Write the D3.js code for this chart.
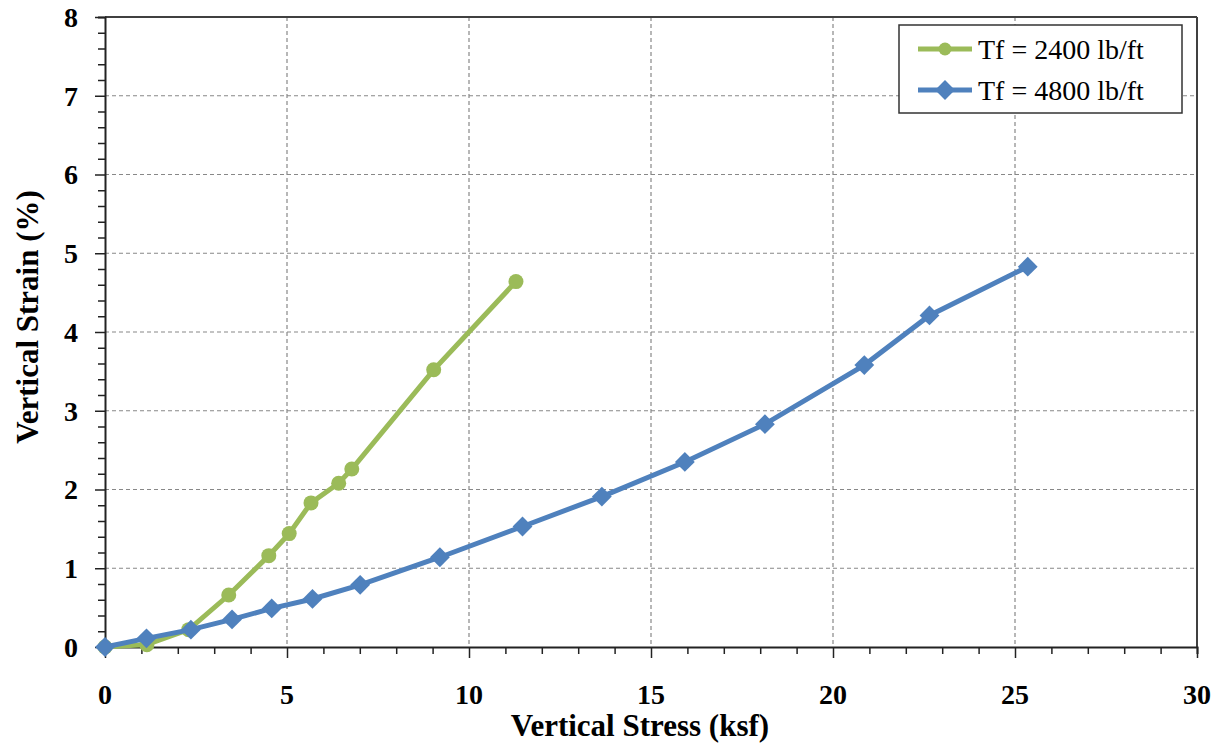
<!DOCTYPE html>
<html lang="en">
<head>
<meta charset="UTF-8">
<script src="https://d3js.org/d3.v7.min.js"></script>
<style>
  body { margin:0; background:#fff; }
  text { font-family: "Liberation Serif", "Times New Roman", serif; }
  .grid line { stroke:#888; stroke-dasharray:4,3; stroke-width:1.2px; }
</style>
<title>Vertical Strain vs Stress</title>
</head>
<body>
<script>
// series: Tf = 2400 lb/ft
var stress2400 = [0, 1.15, 2.3, 3.4, 4.5, 5.06, 5.66, 6.42, 6.78, 9.03, 11.29];
var strain2400 = [0, 0.03, 0.22, 0.66, 1.16, 1.44, 1.83, 2.08, 2.26, 3.52, 4.64];
// series: Tf = 4800 lb/ft
var stress4800 = [0, 1.14, 2.36, 3.49, 4.58, 5.7, 7.01, 9.2, 11.47, 13.65, 15.93, 18.13, 20.86, 22.65, 25.35];
var strain4800 = [0, 0.11, 0.22, 0.35, 0.49, 0.61, 0.79, 1.14, 1.53, 1.91, 2.35, 2.83, 3.58, 4.21, 4.83];

var xTicks = [0, 5, 10, 15, 20, 25, 30];
var yTicks = [0, 1, 2, 3, 4, 5, 6, 7, 8];
var seriesNames = ["Tf = 2400 lb/ft", "Tf = 4800 lb/ft"];

var W = 1225, H = 747;
var margin = {top: 17, right: 28, bottom: 100, left: 105};
var width = W - margin.left - margin.right,
    height = H - margin.top - margin.bottom;

var svg = d3.select("body").append("svg")
    .attr("width", W).attr("height", H);
var g = svg.append("g")
    .attr("transform", "translate(" + margin.left + "," + margin.top + ")");

var x = d3.scaleLinear().domain([0, 30]).range([0, width]);
var y = d3.scaleLinear().domain([0, 8]).range([height, 0]);

// gridlines
var grid = g.append("g").attr("class", "grid");
grid.selectAll(".hg").data(yTicks.slice(1, -1)).enter().append("line")
    .attr("x1", 0).attr("x2", width)
    .attr("y1", function(d) { return y(d); }).attr("y2", function(d) { return y(d); });
grid.selectAll(".vg").data(xTicks.slice(1, -1)).enter().append("line")
    .attr("y1", 0).attr("y2", height)
    .attr("x1", function(d) { return x(d); }).attr("x2", function(d) { return x(d); });

// frame top/right
g.append("line").attr("x1", 0).attr("x2", width).attr("y1", 0).attr("y2", 0)
    .attr("stroke", "#404040").attr("stroke-width", 2);
g.append("line").attr("x1", width).attr("x2", width).attr("y1", 0).attr("y2", height)
    .attr("stroke", "#404040").attr("stroke-width", 2);

// x axis: minor ticks every 1, majors every 5
var xAxis = g.append("g").attr("transform", "translate(0," + height + ")");
xAxis.call(d3.axisBottom(x).tickValues(d3.range(0, 31, 1)).tickSize(7).tickFormat(""));
xAxis.selectAll(".tick line").filter(function(d) { return d % 5 === 0; }).attr("y2", 11);
xAxis.select(".domain").attr("stroke", "#222").attr("stroke-width", 2);
xAxis.selectAll(".tick line").attr("stroke", "#222").attr("stroke-width", 1.5);
xAxis.selectAll(".xl").data(xTicks).enter().append("text")
    .attr("x", function(d) { return x(d); }).attr("y", 57)
    .attr("text-anchor", "middle").attr("font-size", 28).attr("font-weight", "bold")
    .attr("fill", "#000").text(function(d) { return d; });

// y axis: minor ticks every 0.2
var yAxis = g.append("g");
yAxis.call(d3.axisLeft(y).tickValues(d3.range(0, 41, 1).map(function(v) { return v / 5; })).tickSize(7).tickFormat(""));
yAxis.selectAll(".tick line").filter(function(d, i) { return i % 5 === 0; }).attr("x2", -10);
yAxis.select(".domain").attr("stroke", "#222").attr("stroke-width", 2);
yAxis.selectAll(".tick line").attr("stroke", "#222").attr("stroke-width", 1.5);
yAxis.selectAll(".yl").data(yTicks).enter().append("text")
    .attr("x", -27).attr("y", function(d) { return y(d); }).attr("dy", "0.35em")
    .attr("text-anchor", "end").attr("font-size", 28).attr("font-weight", "bold")
    .attr("fill", "#000").text(function(d) { return d; });

// axis titles
svg.append("text").attr("x", 640).attr("y", 736)
    .attr("text-anchor", "middle").attr("font-size", 31).attr("font-weight", "bold")
    .text("Vertical Stress (ksf)");
svg.append("text").attr("transform", "translate(38,317) rotate(-90)")
    .attr("text-anchor", "middle").attr("font-size", 31).attr("font-weight", "bold")
    .text("Vertical Strain (%)");

var line = d3.line()
    .x(function(d) { return x(d[0]); })
    .y(function(d) { return y(d[1]); });

var green = "#9BBB59", blue = "#4F81BD";
var data2400 = d3.zip(stress2400, strain2400);
var data4800 = d3.zip(stress4800, strain4800);

g.append("path").datum(data2400).attr("d", line)
    .attr("fill", "none").attr("stroke", green).attr("stroke-width", 5);
g.selectAll(".c").data(data2400).enter().append("circle")
    .attr("cx", function(d) { return x(d[0]); }).attr("cy", function(d) { return y(d[1]); })
    .attr("r", 7.5).attr("fill", green);

g.append("path").datum(data4800).attr("d", line)
    .attr("fill", "none").attr("stroke", blue).attr("stroke-width", 5);
var diamond = d3.symbol().type(d3.symbolDiamond2).size(250);
g.selectAll(".dm").data(data4800).enter().append("path")
    .attr("d", diamond)
    .attr("transform", function(d) { return "translate(" + x(d[0]) + "," + y(d[1]) + ")"; })
    .attr("fill", blue);

// legend
var lg = svg.append("g").attr("transform", "translate(899,25)");
lg.append("rect").attr("width", 283).attr("height", 88)
    .attr("fill", "#fff").attr("stroke", "#333").attr("stroke-width", 1.5);
[green, blue].forEach(function(c, i) {
  var cy = 24 + i * 41;
  lg.append("line").attr("x1", 19).attr("x2", 73).attr("y1", cy).attr("y2", cy)
      .attr("stroke", c).attr("stroke-width", 5);
  if (i === 0) {
    lg.append("circle").attr("cx", 46).attr("cy", cy).attr("r", 6.5).attr("fill", c);
  } else {
    lg.append("path").attr("d", diamond).attr("transform", "translate(46," + cy + ")").attr("fill", c);
  }
  lg.append("text").attr("x", 79).attr("y", cy).attr("dy", "0.35em")
      .attr("font-size", 28).attr("fill", "#000").text(seriesNames[i]);
});
</script>
</body>
</html>
